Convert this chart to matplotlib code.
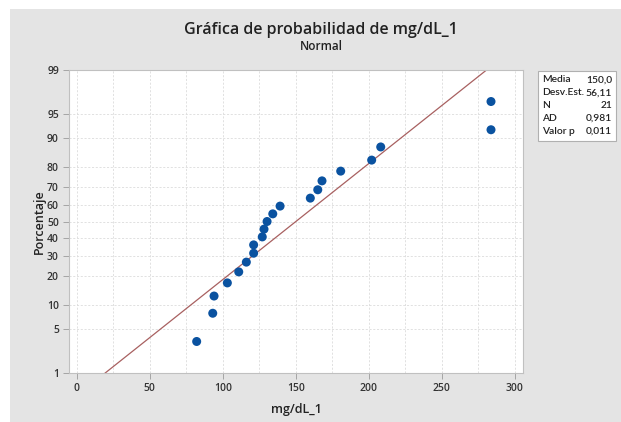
import matplotlib
matplotlib.use("Agg")
import matplotlib.pyplot as plt
from matplotlib.patches import Rectangle
from statistics import NormalDist

plt.rcParams['font.family'] = ['Open Sans', 'DejaVu Sans']

# Data (mg/dL_1), sorted
values = [82.1, 93.1, 94.0, 103.1, 110.9, 116.1, 121.1, 121.1, 127.0, 128.2,
          130.3, 134.2, 139.2, 159.9, 165.0, 167.9, 180.7, 201.9, 208.1, 283.6, 283.6]
mean_val = 150.0
sd_val = 56.11
n_val = 21
ad_val = "0,981"
p_val = "0,011"

y_ticks = [1, 5, 10, 20, 30, 40, 50, 60, 70, 80, 90, 95, 99]
x_ticks = [0, 50, 100, 150, 200, 250, 300]

nd = NormalDist()
W, H = 621, 422
fig = plt.figure(figsize=(W / 100, H / 100), dpi=100)
fig.patch.set_facecolor('white')
fig.patches.append(Rectangle((10 / W, 0), 1 - 10 / W, 1 - 9 / H, transform=fig.transFigure,
                             facecolor='#e4e4e4', edgecolor='none', zorder=-10))

ax = fig.add_axes([69.3 / W, 49 / H, (522.7 - 69.3) / W, (373 - 70) / H])
ax.set_zorder(1)
ax.set_facecolor('white')

n = len(values)
probs = [(i + 1 - 0.3) / (n + 0.4) for i in range(n)]
zs = [nd.inv_cdf(p) for p in probs]

# fitted line
zlo, zhi = nd.inv_cdf(0.01), nd.inv_cdf(0.99)
ax.plot([mean_val + zlo * sd_val, mean_val + zhi * sd_val], [zlo, zhi],
        color='#a86060', lw=0.9, zorder=2)
ax.scatter(values, zs, s=42, color='#0a52a0', zorder=3, edgecolors='none')

ax.set_xlim(-5.1, 305.3)
ax.set_ylim(zlo, zhi)
ax.set_yticks([nd.inv_cdf(t / 100) for t in y_ticks])
ax.set_yticklabels([str(t) for t in y_ticks])
ax.set_xticks(x_ticks)
ax.set_xticks([25, 75, 125, 175, 225, 275], minor=True)
ax.tick_params(axis='both', which='major', labelsize=7.5, colors='#9a9a9a',
               labelcolor='#333333', length=4, width=0.6)
ax.tick_params(axis='x', which='minor', length=0)
for lbl in ax.get_xticklabels() + ax.get_yticklabels():
    lbl.set_fontweight('semibold')

ax.grid(True, which='both', axis='x', color='#dcdcdc', linestyle=(0, (2.5, 2)), lw=0.6)
ax.grid(True, which='major', axis='y', color='#dcdcdc', linestyle=(0, (2.5, 2)), lw=0.6)
ax.set_axisbelow(True)
for s in ax.spines.values():
    s.set_color('#c0c0c0')
    s.set_linewidth(0.8)

ax.set_xlabel('mg/dL_1', fontsize=9, color='#222222', fontweight='semibold', labelpad=6)
ax.set_ylabel('Porcentaje', fontsize=9, color='#222222', fontweight='semibold', labelpad=0.5)

fig.text(321 / W, 1 - 30 / H, 'Gráfica de probabilidad de mg/dL_1', ha='center', va='center',
         fontsize=11.5, fontweight='semibold', color='#222222')
fig.text(321 / W, 1 - 46 / H, 'Normal', ha='center', va='center',
         fontsize=8.5, fontweight='semibold', color='#222222')

# stats box
bx0, bx1, by0, by1 = 538.3, 615.7, 71, 141
fig.patches.append(Rectangle((bx0 / W, 1 - by1 / H), (bx1 - bx0) / W, (by1 - by0) / H,
                             transform=fig.transFigure, facecolor='white',
                             edgecolor='#b0b0b0', lw=0.8, zorder=1))
labels = ['Media', 'Desv.Est.', 'N', 'AD', 'Valor p']
vals = [f"{mean_val:.1f}".replace('.', ','), f"{sd_val:.2f}".replace('.', ','), str(n_val), ad_val, p_val]
for i, (l, v) in enumerate(zip(labels, vals)):
    yy = 1 - (80 + i * 12.8) / H
    fig.text(542 / W, yy, l, ha='left', va='center', fontsize=7.4, color='#222222',
             fontweight='semibold', family=['Lato', 'DejaVu Sans'], zorder=2)
    fig.text(612 / W, yy, v, ha='right', va='center', fontsize=7.4, color='#222222',
             fontweight='semibold', family=['Lato', 'DejaVu Sans'], zorder=2)

fig.savefig('out.png', dpi=100, facecolor=fig.get_facecolor())
